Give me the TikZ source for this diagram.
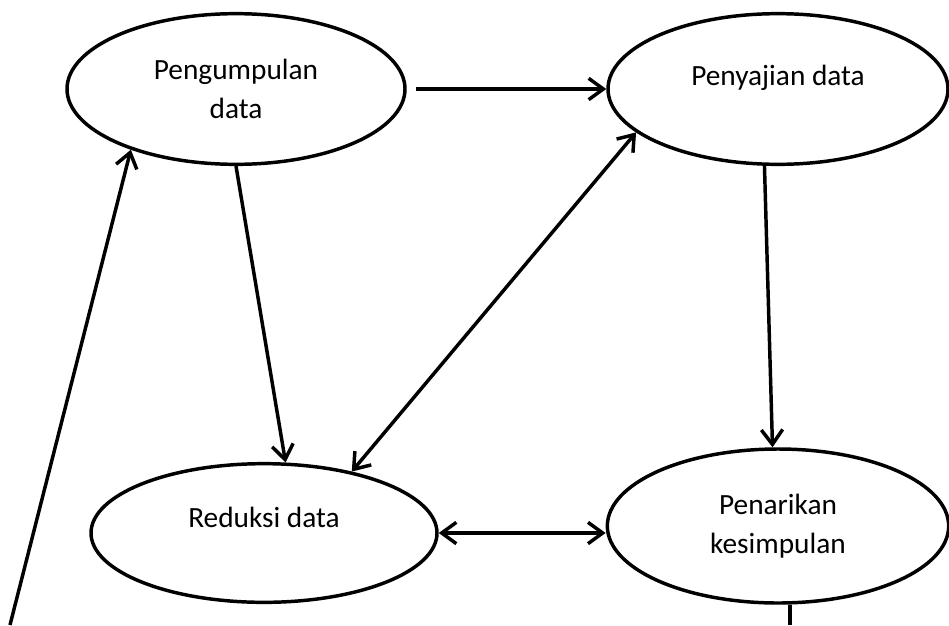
\documentclass[tikz,border=0pt]{standalone}
\usepackage{fontspec}
\setmainfont{Carlito}
\usetikzlibrary{shapes.geometric,arrows.meta}
\begin{document}
\begin{tikzpicture}[x=0.75pt,y=-0.75pt,line width=2.6pt,
	proc/.style={draw,ellipse,inner sep=0pt,align=center,font=\fontsize{22}{29}\selectfont},
	arr/.style={-{Straight Barb[length=11pt,width=16pt,line width=2.6pt]}},
	darr/.style={{Straight Barb[length=11pt,width=16pt,line width=2.6pt]}-{Straight Barb[length=11pt,width=16pt,line width=2.6pt]}}]
\useasboundingbox (0,0) rectangle (949,625);
	\node[proc, minimum width=253.5pt, minimum height=113pt] (kumpul) at (236,89) {Pengumpulan\\data};
	\node[proc, minimum width=255pt, minimum height=113pt] (saji) at (778,89) {Penyajian data\\[-9pt]\mbox{}};
	\node[proc, minimum width=259.5pt, minimum height=104pt] (reduksi) at (264,533) {Reduksi data\\[-6pt]\mbox{}};
	\node[proc, minimum width=256pt, minimum height=115.5pt] (tarik) at (778,526) {Penarikan\\kesimpulan};
	\coordinate (kiri) at (10,625);
	\coordinate (kanan) at (790,625);
\draw[arr, shorten <=7pt] (kumpul.east) -- (saji.west);
\draw[arr] (kumpul.south) -- (reduksi.73);
\draw[darr] (saji.197) -- (reduksi.35);
\draw[arr] (saji.260) -- (tarik.94);
\draw[darr] (reduksi.east) -- (reduksi.east -| tarik.west);
\draw[arr] (kiri) -- (kumpul.210);
\draw (tarik.south -| kanan) -- (kanan);
\end{tikzpicture}
\end{document}
